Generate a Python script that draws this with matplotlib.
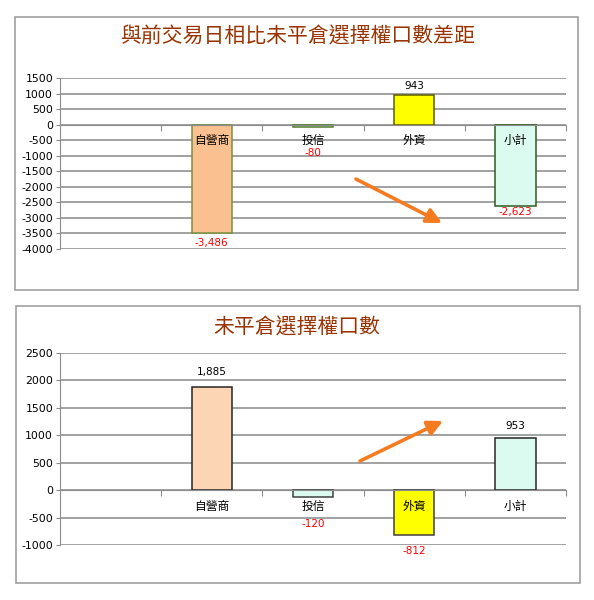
import numpy as np
import matplotlib
matplotlib.use('Agg')
import matplotlib.pyplot as plt
from matplotlib.patches import Rectangle

plt.rcParams['font.family'] = ['Noto Sans CJK TC', 'DejaVu Sans']

# data
categories = ['', '自營商', '投信', '外資', '小計']
diff_values = [np.nan, -3486, -80, 943, -2623]
oi_values = [np.nan, 1885, -120, -812, 953]
title_diff = '與前交易日相比未平倉選擇權口數差距'
title_oi = '未平倉選擇權口數'
ticks_diff = np.arange(-4000, 1501, 500)
ticks_oi = np.arange(-1000, 2501, 500)

W, H = 594, 600
fig = plt.figure(figsize=(W / 100, H / 100), dpi=100)
fig.patch.set_facecolor('white')


def px_rect(x0, y0, x1, y1):
    # pixel box (top-left origin) -> figure fraction [l, b, w, h]
    return [x0 / W, 1 - y1 / H, (x1 - x0) / W, (y1 - y0) / H]


def panel(box):
    l, b, w, h = px_rect(*box)
    fig.patches.append(Rectangle((l, b), w, h, transform=fig.transFigure,
                                 fill=False, edgecolor='#a0a0a0', lw=1.2))


def bar_chart(ax, values, ticks, faces, edges, offsets, title, title_y):
    x = np.arange(len(categories))
    ax.bar(x, values, width=0.4, color=faces, edgecolor=edges, linewidth=1.1, zorder=2)
    ax.set_xlim(-0.5, len(categories) - 0.5)
    ax.set_ylim(ticks[0], ticks[-1])
    ax.set_yticks(ticks)
    ax.set_yticklabels([str(t) for t in ticks], fontsize=7.8, family='DejaVu Sans')
    ax.yaxis.grid(True, color='#9a9a9a', lw=1.3, zorder=0)
    ax.set_axisbelow(True)
    for s in ['top', 'right']:
        ax.spines[s].set_visible(False)
    ax.spines['left'].set_color('#8c8c8c')
    ax.spines['bottom'].set_position(('data', 0))
    ax.spines['bottom'].set_color('#8c8c8c')
    ax.spines['bottom'].set_zorder(3)
    ax.tick_params(axis='y', length=3, color='#8c8c8c', pad=2)
    ax.set_xticks(np.arange(len(categories)) + 0.5)
    ax.set_xticklabels([])
    ax.tick_params(axis='x', which='major', length=4, color='#8c8c8c', direction='out')
    # category names sit just under the zero line, on top of the bars
    for xi, name in zip(x, categories):
        ax.annotate(name, (xi, 0), xytext=(0, -16 * 0.72), textcoords='offset points',
                    ha='center', va='center', fontsize=8.5, color='black', zorder=5)
    for xi, v, off in zip(x, values, offsets):
        if np.isnan(v):
            continue
        ax.annotate(f'{v:,.0f}', (xi, v), xytext=(0, off * 0.72), textcoords='offset points',
                    ha='center', va='center', fontsize=7.5, family='DejaVu Sans',
                    color='black' if v > 0 else '#ff0000', zorder=5)
    fig.text(297 / W, 1 - title_y / H, title, ha='center', va='center',
             fontsize=15, color='#993300')


panel((15, 17, 578, 290))
panel((16, 306, 580, 583))

ax1 = fig.add_axes(px_rect(60, 78, 566, 249))
bar_chart(ax1, diff_values, ticks_diff,
          ['none', '#fac090', '#ecfdf5', '#ffff00', '#dcfbf0'],
          ['none', '#76923c', '#4f7a28', '#5c5c00', '#2f5a1f'],
          [0, -10, -26, 9, -6], title_diff, 37)
ax1.annotate('', xy=(0.755, 0.152), xytext=(0.585, 0.409), xycoords='axes fraction',
             arrowprops=dict(arrowstyle='-|>,head_length=0.9,head_width=0.45',
                             lw=2.6, color='#f47b20', shrinkA=0, shrinkB=0))

ax2 = fig.add_axes(px_rect(60, 353, 566, 545))
bar_chart(ax2, oi_values, ticks_oi,
          ['none', '#fcd5b4', '#dcfbf0', '#ffff00', '#dcfbf0'],
          ['none', '#262626', '#404040', '#404040', '#262626'],
          [0, 15, -27, -16, 12], title_oi, 328)
ax2.annotate('', xy=(0.757, 0.646), xytext=(0.593, 0.4375), xycoords='axes fraction',
             arrowprops=dict(arrowstyle='-|>,head_length=0.9,head_width=0.45',
                             lw=2.6, color='#f47b20', shrinkA=0, shrinkB=0))

fig.savefig('out.png', dpi=100)
